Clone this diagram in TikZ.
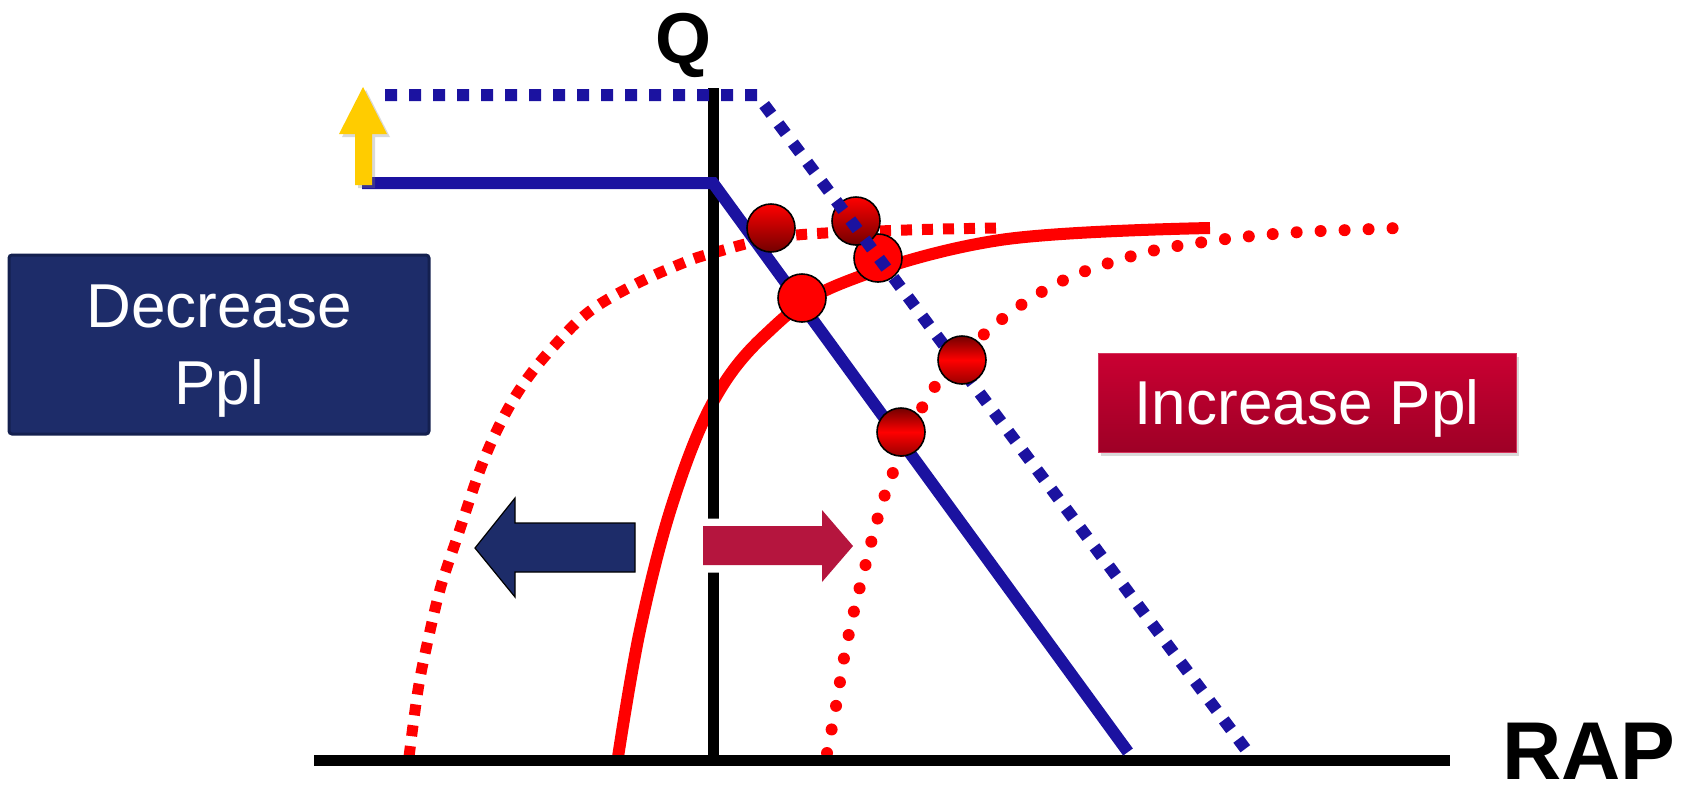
\documentclass[tikz,border=0pt]{standalone}
\usepackage{fontspec}
\setmainfont{Liberation Sans}
\setsansfont{Liberation Sans}
\usetikzlibrary{shadows}
\definecolor{navy}{HTML}{1D2C69}
\definecolor{navyEdge}{HTML}{14204F}
\definecolor{lineBlue}{HTML}{1B12A0}
\definecolor{crimson}{HTML}{B5153E}
\definecolor{incTop}{HTML}{CA0032}
\definecolor{incBottom}{HTML}{9E0026}
\definecolor{gold}{HTML}{FFCC00}
\definecolor{curveRed}{HTML}{FF0000}
\tikzset{
  base/.style={font=\sffamily},
  axislabel/.style={base, font=\sffamily\bfseries\fontsize{36}{40}\selectfont, text=black, inner sep=0pt},
  axisline/.style={line width=5.5pt, draw=black},
  costline/.style={line width=6pt, draw=lineBlue},
  costshift/.style={line width=6pt, draw=lineBlue, dash pattern=on 6pt off 6pt},
  yieldline/.style={line width=6pt, draw=curveRed},
  yieldlow/.style={line width=5.5pt, draw=curveRed, dash pattern=on 5.5pt off 5pt},
  yieldhigh/.style={line width=6pt, draw=curveRed, line cap=round, dash pattern=on 0pt off 12pt},
  ball/.style={circle, draw=black, line width=0.8pt, minimum size=24pt, inner sep=0pt},
  ballshade/.style={ball, top color=curveRed, bottom color=curveRed!45!black},
  ballflat/.style={ball, fill=curveRed},
  balldark/.style={ball, top color=curveRed!45!black, bottom color=curveRed!60!black, middle color=curveRed},
  panel/.style={base, text=white, align=center, font=\sffamily\fontsize{31}{38.5}\selectfont, text depth=0pt, inner sep=0pt},
}
\begin{document}
\begin{tikzpicture}[x=0.5pt,y=-0.5pt]
  \useasboundingbox (0,0) rectangle (1690,789);

  % yield curves
  \draw[yieldlow] plot[smooth, tension=0.6] coordinates {(409,757) (418,690) (428,640) (441,586) (458,535) (480,470) (500,424) (524,383) (555,345) (590,311) (634,285) (678,265) (713,253) (787,236) (907,230) (1002,228)};
  \draw[yieldline] plot[smooth, tension=0.6] coordinates {(618,757) (640,630) (672,505) (713,402) (765,335) (840,284) (1000,240) (1210,228)};
  \draw[yieldhigh] plot[smooth, tension=0.6] coordinates {(827,753) (836,706) (844,658) (854,611) (866,563) (878,517) (894,470) (924,404) (950,368) (982,336) (1021,305) (1064,280) (1109,263) (1156,250) (1204,242) (1252,236) (1301,232) (1349,230) (1398,228)};

  % axes
  \coordinate (origin) at (713,760);
  \draw[axisline] (314,760) -- (1450,760);
  \draw[axisline] (713,88) -- (origin);
  \node[axislabel, anchor=base] (qlab) at (683,63) {Q};
  \node[axislabel, font=\sffamily\bfseries\fontsize{41}{45}\selectfont, anchor=base] (raplab) at (1589,779) {RAP};

  % cost lines
  \draw[costline] (362,183) -- (713,183) -- (1128,752);
  \node[ballflat] (pt3) at (878,258) {};
  \node[ballshade] (pt2) at (856,221) {};
  \draw[costshift] (385,95) -- (757,95) -- (1250,755);

  \node[ballshade] (pt1) at (771,228) {};
  \node[ballflat] (pt4) at (802,298) {};
  \node[balldark] (pt5) at (962,360) {};
  \node[balldark] (pt6) at (901,432) {};

  % shift arrows
  \fill[gold, drop shadow={opacity=0.3, shadow xshift=1.5pt, shadow yshift=-1.5pt}] (355,185) -- (355,134) -- (339,134) -- (363,87) -- (387,134) -- (372,134) -- (372,185) -- cycle;
  \draw[fill=navy, draw=black, line width=0.6pt] (635,523) -- (515,523) -- (515,498) -- (475,548) -- (515,597) -- (515,572) -- (635,572) -- cycle;
  \draw[fill=crimson, draw=none, preaction={draw=white, line width=7.5pt, line join=round, drop shadow={opacity=0.25, shadow xshift=1.5pt, shadow yshift=-1.5pt}}] (703,526) -- (822,526) -- (822,510) -- (853,546) -- (822,582) -- (822,565) -- (703,565) -- cycle;

  % panels
  \node[panel, minimum width=210pt, minimum height=89.5pt, fill=navy, draw=navyEdge, line width=1.5pt, rounded corners=1.5pt] (dec) at (219,344.5) {Decrease\\Ppl};
  \node[panel, minimum width=209pt, minimum height=49.5pt, top color=incTop, bottom color=incBottom, draw=incTop!80!white, line width=0.5pt, drop shadow={opacity=0.3, shadow xshift=1.5pt, shadow yshift=-2pt}] (inc) at (1307,402.5) {Increase Ppl};
\end{tikzpicture}
\end{document}
